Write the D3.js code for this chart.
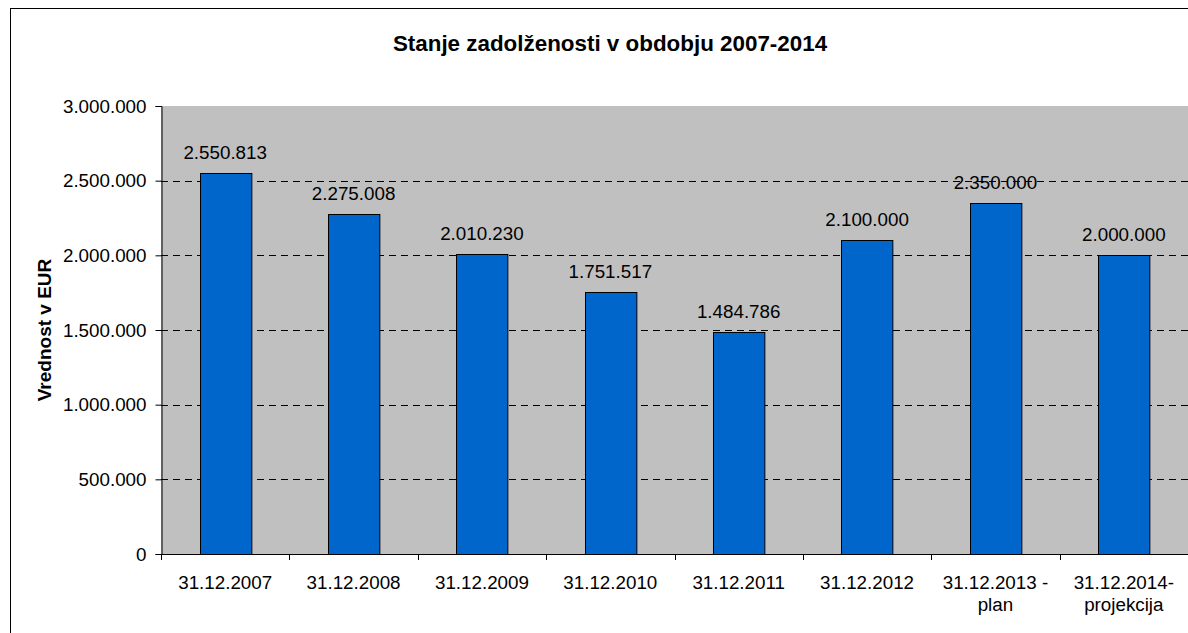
<!DOCTYPE html>
<html>
<head>
<meta charset="utf-8">
<script src="https://cdn.jsdelivr.net/npm/d3@7"></script>
<style>
  html, body { margin: 0; padding: 0; background: #fff; }
  svg { display: block; }
  text { font-family: "Liberation Sans", Arial, sans-serif; fill: #000; }
</style>
</head>
<body>
<svg id="chart" width="1188" height="633"></svg>
<script>
const categories = [
  ["31.12.2007"],
  ["31.12.2008"],
  ["31.12.2009"],
  ["31.12.2010"],
  ["31.12.2011"],
  ["31.12.2012"],
  ["31.12.2013 -", "plan"],
  ["31.12.2014-", "projekcija"]
];
const values = [2550813, 2275008, 2010230, 1751517, 1484786, 2100000, 2350000, 2000000];
const yTicks = [0, 500000, 1000000, 1500000, 2000000, 2500000, 3000000];
const title = "Stanje zadolženosti v obdobju 2007-2014";
const yTitle = "Vrednost v EUR";

const svg = d3.select("#chart");
const W = 1188, H = 633;
const m = { left: 161, top: 106, right: 1188, bottom: 554 };
const FS = 18.8;

const loc = d3.formatLocale({ decimal: ",", thousands: ".", grouping: [3], currency: ["", ""] });
const fmt = loc.format(",d");

// outer border
svg.append("rect").attr("x", 10.5).attr("y", 8.5).attr("width", W).attr("height", H)
  .attr("fill", "#fff").attr("stroke", "#000").attr("stroke-width", 1);

const x = d3.scaleBand().domain(d3.range(categories.length))
  .range([m.left, m.right]).paddingInner(0.6).paddingOuter(0.3);
const y = d3.scaleLinear().domain([0, 3000000]).range([m.bottom, m.top]);

// plot bg
svg.append("rect").attr("x", m.left).attr("y", m.top)
  .attr("width", m.right - m.left).attr("height", m.bottom - m.top)
  .attr("fill", "#c0c0c0");

// gridlines
svg.append("g").selectAll("line").data(yTicks.filter(d => d > 0 && d < 3000000)).join("line")
  .attr("x1", m.left).attr("x2", m.right)
  .attr("y1", d => Math.round(y(d)) + 0.5).attr("y2", d => Math.round(y(d)) + 0.5)
  .attr("stroke", "#000").attr("stroke-width", 1).attr("stroke-dasharray", "7,5");

// bars
svg.append("g").selectAll("rect").data(values).join("rect")
  .attr("x", (d, i) => Math.round(x(i)) + 0.5)
  .attr("y", d => Math.round(y(d)) + 0.5)
  .attr("width", x.bandwidth())
  .attr("height", d => Math.round(y(0)) - Math.round(y(d)))
  .attr("fill", "#0066cc").attr("stroke", "#000").attr("stroke-width", 1);

// value labels
svg.append("g").selectAll("text").data(values).join("text")
  .attr("x", (d, i) => x(i) + x.bandwidth() / 2)
  .attr("y", d => y(d) - 14)
  .attr("text-anchor", "middle").attr("font-size", FS)
  .text(d => fmt(d));

// y axis
const yAxis = svg.append("g").attr("transform", `translate(${m.left + 0.5},0)`)
  .call(d3.axisLeft(y).tickValues(yTicks).tickFormat(fmt).tickSizeOuter(0).tickSize(6).tickPadding(9));
yAxis.select(".domain").attr("stroke", "#000");
yAxis.selectAll(".tick line").attr("stroke", "#000");
yAxis.selectAll(".tick text").attr("font-size", FS).attr("font-family", "Liberation Sans, Arial, sans-serif").attr("fill", "#000");

// x axis
const xAxisG = svg.append("g");
xAxisG.append("line").attr("x1", m.left).attr("x2", m.right)
  .attr("y1", m.bottom + 0.5).attr("y2", m.bottom + 0.5).attr("stroke", "#000");
const step = x.step();
xAxisG.selectAll("line.tk").data(d3.range(categories.length + 1)).join("line").attr("class", "tk")
  .attr("x1", i => Math.round(m.left + i * step) + 0.5).attr("x2", i => Math.round(m.left + i * step) + 0.5)
  .attr("y1", m.bottom).attr("y2", m.bottom + 6).attr("stroke", "#000");
const xl = xAxisG.selectAll("text").data(categories).join("text")
  .attr("text-anchor", "middle").attr("font-size", FS)
  .attr("x", (d, i) => x(i) + x.bandwidth() / 2)
  .attr("y", m.bottom + 35);
xl.selectAll("tspan").data(d => d).join("tspan")
  .attr("x", function () { return this.parentNode.getAttribute("x"); })
  .attr("dy", (d, j) => j === 0 ? 0 : 22)
  .text(d => d);

// title
svg.append("text").attr("x", 610).attr("y", 51).attr("text-anchor", "middle")
  .attr("font-size", 22.4).attr("font-weight", "bold").text(title);

// y title
svg.append("text").attr("transform", "translate(51,330) rotate(-90)")
  .attr("text-anchor", "middle").attr("font-size", 19).attr("font-weight", "bold").text(yTitle);
</script>
</body>
</html>
